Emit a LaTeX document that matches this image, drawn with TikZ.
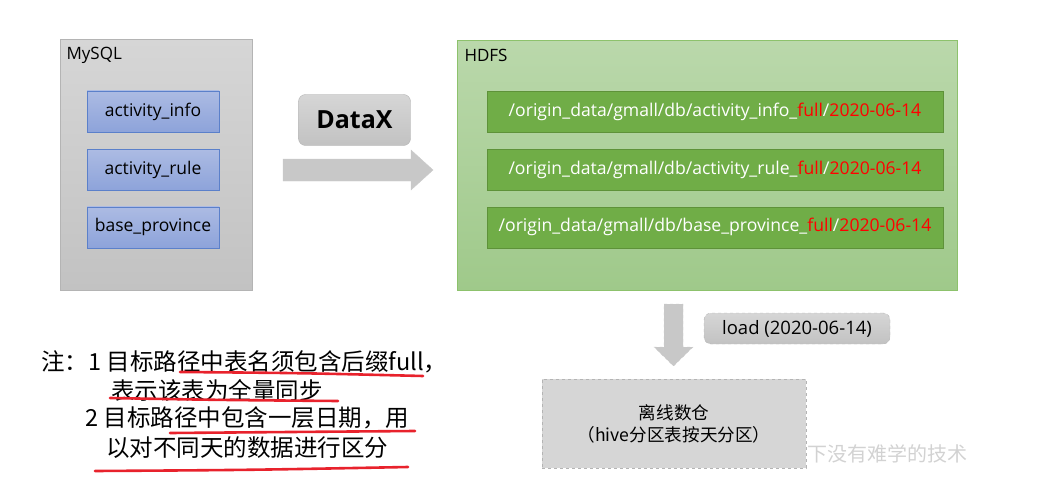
\documentclass[tikz,border=0pt]{standalone}
\usepackage{fontspec}
\setmainfont{Open Sans}
\newfontfamily\cjk{Noto Sans CJK SC}
\usetikzlibrary{positioning}

\definecolor{dbtop}{HTML}{D6D6D6}
\definecolor{dbbot}{HTML}{C2C2C2}
\definecolor{dbline}{HTML}{B4B4B4}
\definecolor{tbltop}{HTML}{ACBBE3}
\definecolor{tblbot}{HTML}{8DA3DA}
\definecolor{tblline}{HTML}{5B80CA}
\definecolor{hdfstop}{HTML}{BAD8AB}
\definecolor{hdfsbot}{HTML}{9FC98A}
\definecolor{hdfsline}{HTML}{8DC26C}
\definecolor{pathfill}{HTML}{70AD47}
\definecolor{pathline}{HTML}{5E9239}
\definecolor{arrowgray}{HTML}{C8C8C8}
\definecolor{notered}{HTML}{E8222C}
\definecolor{fullred}{HTML}{FF0000}

\tikzset{
  dbbox/.style={draw=dbline,top color=dbtop,bottom color=dbbot,
                minimum width=192pt,minimum height=251pt,anchor=north west},
  tblbox/.style={draw=tblline,top color=tbltop,bottom color=tblbot,
                 minimum width=132pt,minimum height=41pt,
                 font=\fontsize{17.5}{21}\selectfont},
  hdfsbox/.style={draw=hdfsline,top color=hdfstop,bottom color=hdfsbot,
                  minimum width=500pt,minimum height=250pt,anchor=north west},
  pathbox/.style={draw=pathline,fill=pathfill,text=white,
                  minimum width=456pt,minimum height=41pt,
                  font=\fontsize{17.6}{21}\selectfont},
  toolbox/.style={draw=dbline,rounded corners=7pt,top color=dbtop,bottom color=dbbot},
  blockarrow/.style={draw=dbline!70,fill=arrowgray},
  redline/.style={notered,line width=2.6pt,line cap=round},
  boxname/.style={anchor=west,font=\fontsize{17}{20}\selectfont},
  noteline/.style={anchor=west,inner sep=0pt,font=\cjk\fontsize{23.5}{28}\selectfont}
}

\newcommand{\pathfull}{\textcolor{fullred}{full}}
\newcommand{\pathday}{\textcolor{fullred}{2020-06-14}}

\begin{document}
\begin{tikzpicture}[x=1pt,y=-1pt]
\useasboundingbox (0,0) rectangle (1042,503);

% ---------------------------------------------------------------
% MySQL side
\node[dbbox] (mysql) at (60,39) {};
\node[boxname] (mysqlname) at (63,55) {MySQL};

\node[tblbox] (tinfo) at (153,111.5) {activity\_info};
\node[tblbox,below=17pt of tinfo] (trule) {activity\_rule};
\node[tblbox,below=16pt of trule] (tprov) {base\_province};

% DataX + arrow
\node[toolbox,minimum width=112pt,minimum height=51pt,
      font=\bfseries\fontsize{25}{30}\selectfont] (datax) at (354.5,120) {DataX};
\draw[blockarrow] (283,159) -- (411,159) -- (411,150) -- (433,170)
                  -- (411,190) -- (411,181) -- (283,181) -- cycle;

% ---------------------------------------------------------------
% HDFS side
\node[hdfsbox] (hdfs) at (457,40) {};
\node[boxname] (hdfsname) at (461,55) {HDFS};

\node[pathbox] (pinfo) at (715,111.5)
     {/origin\_data/gmall/db/activity\_info\_\pathfull/\pathday};
\node[pathbox,below=17pt of pinfo] (prule)
     {/origin\_data/gmall/db/activity\_rule\_\pathfull/\pathday};
\node[pathbox,below=16pt of prule] (pprov)
     {/origin\_data/gmall/db/base\_province\_\pathfull/\pathday};

% load arrow
\draw[blockarrow,dashed] (664,304) -- (683,304) -- (683,347) -- (693,347)
                         -- (673.5,366) -- (654,347) -- (664,347) -- cycle;
\node[toolbox,dashed,minimum width=186pt,minimum height=31pt,
      font=\fontsize{18.5}{22}\selectfont] (load) at (797,328.5) {load (2020-06-14)};

% warehouse
\node[draw=dbline,dashed,fill=dbtop,minimum width=264pt,minimum height=89pt,
      align=center,font=\cjk\fontsize{17.6}{22}\selectfont] (dw) at (674,423.5)
     {离线数仓\\（hive分区表按天分区）};
\node[anchor=west,text=gray!35,font=\cjk\fontsize{20}{24}\selectfont] (mark) at (804,454)
     {下没有难学的技术};

% ---------------------------------------------------------------
% Note
\node[noteline] (note1) at (41,362) {注：1 目标路径中表名须包含后缀full，};
\node[noteline] (note2) at (111,390) {表示该表为全量同步};
\node[noteline] (note3) at (85,418) {2 目标路径中包含一层日期，用};
\node[noteline] (note4) at (106,448) {以对不同天的数据进行区分};

% red marks
\draw[redline] (180,372) .. controls (300,373) .. (423,376);
\draw[redline] (110,398) .. controls (220,400) .. (338,401);
\draw[redline] (170,433) .. controls (290,432) .. (415,431);
\draw[redline] (95,471) .. controls (250,470) .. (408,467);

\end{tikzpicture}
\end{document}
